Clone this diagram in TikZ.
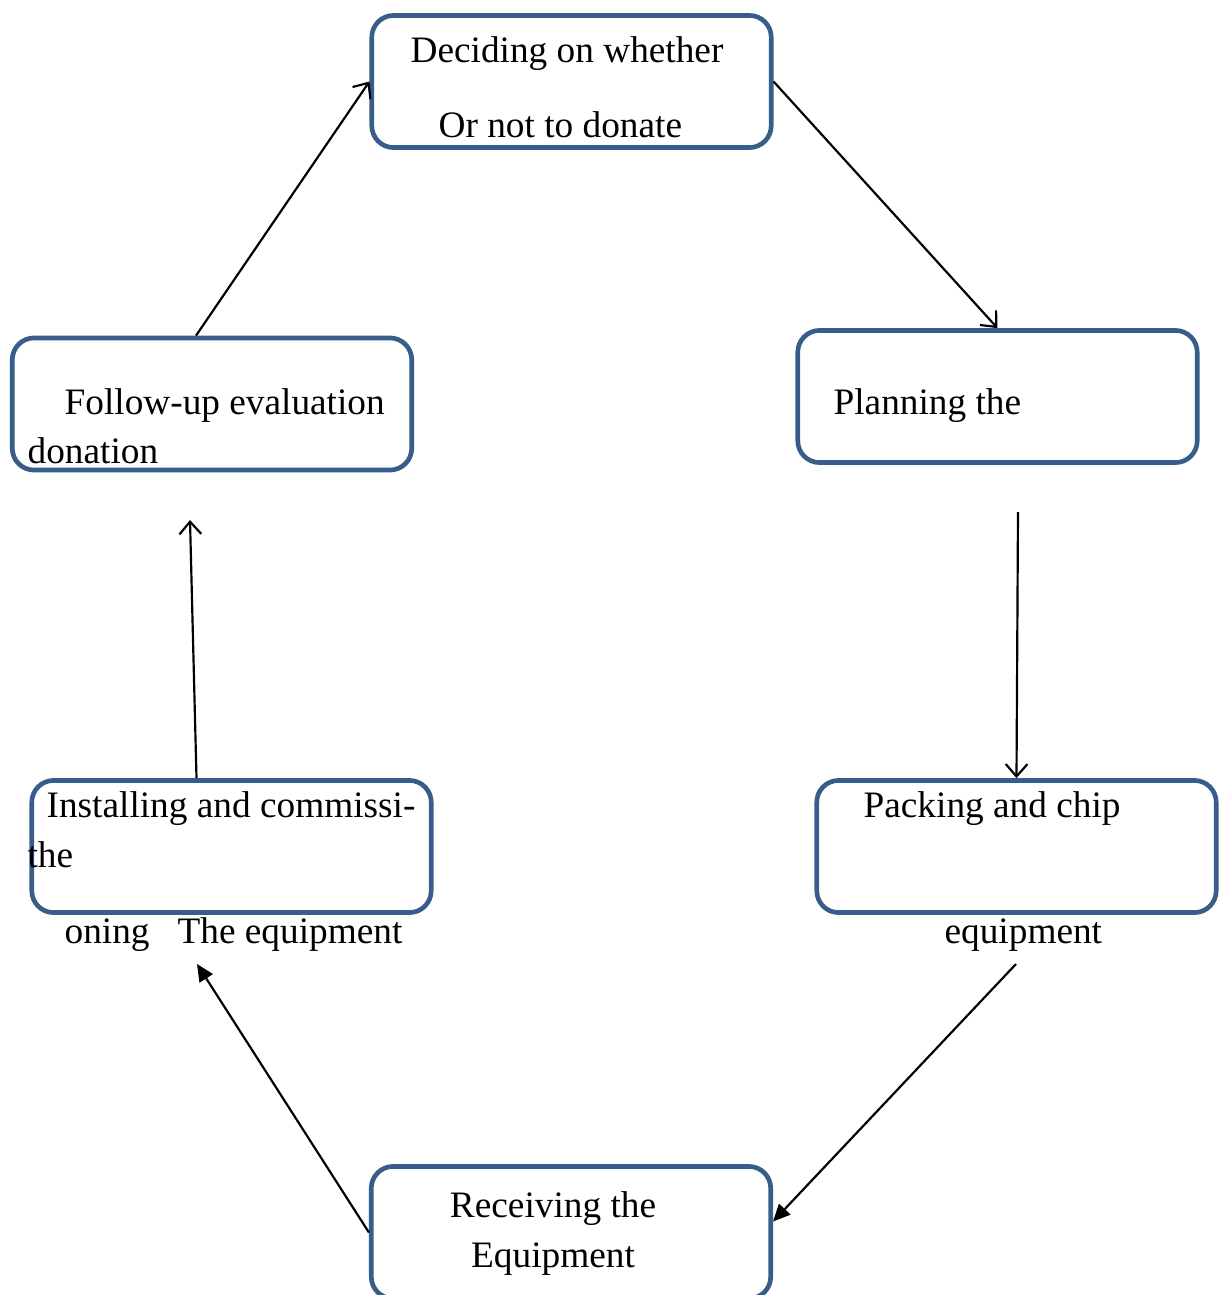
\documentclass[tikz,border=0pt]{standalone}
\usepackage{fontspec}
\setmainfont{Liberation Serif}
\usetikzlibrary{arrows.meta,calc}

\definecolor{boxblue}{HTML}{385D8A}

\begin{document}
\begin{tikzpicture}[x=0.0113cm,y=-0.0113cm,
    stage/.style={draw=boxblue,line width=1.5pt,rounded corners=7pt,minimum width=128.5pt,minimum height=42.5pt,inner sep=0pt},
    label text/.style={font=\fontsize{12pt}{14pt}\selectfont,inner sep=0pt},
    open arrow/.style={line width=0.7pt,-{Straight Barb[length=4pt,width=7pt]}},
    solid arrow/.style={line width=0.7pt,-{Triangle[length=5.5pt,width=5pt]}}]
  \useasboundingbox (0,0) rectangle (1219,1295);

  % the six stages
  \node[stage] (decide) at (571.5,81.5) {};
  \node[stage] (plan) at (997.5,396.5) {};
  \node[stage] (pack) at (1016.5,846.5) {};
  \node[stage] (receive) at (571,1232.5) {};
  \node[stage] (install) at (231.5,846.5) {};
  \node[stage] (follow) at (212,404) {};

  % texts as they sit in and round the boxes
  \node[label text,anchor=base west] (decide1) at (410,62) {Deciding on whether};
  \node[label text,anchor=base west] (decide2) at (438,137) {Or not to donate};
  \node[label text,anchor=base west] (plan1) at (833,414) {Planning the};
  \node[label text,anchor=base west] (pack1) at (863,817) {Packing and chip};
  \node[label text,anchor=base west] (pack2) at (944,943) {equipment};
  \node[label text,anchor=base] (receive1) at (553,1217) {Receiving the};
  \node[label text,anchor=base] (receive2) at (553,1267) {Equipment};
  \node[label text,anchor=base west] (install1) at (46,817) {Installing and commissi-};
  \node[label text,anchor=base west] (install2) at (27,867) {the};
  \node[label text,anchor=base west] (install3) at (64,943) {oning\hspace{9pt}The equipment};
  \node[label text,anchor=base west] (follow1) at (64,414) {Follow-up evaluation};
  \node[label text,anchor=base west] (follow2) at (27,463) {donation};

  \coordinate (planout) at (1018,512);
  \coordinate (packout) at (1016,964);
  \coordinate (installin) at (197,964);
  \coordinate (followin) at (190,520);

  \path
    (decide.east) edge[open arrow] (plan.north)
    (planout) edge[open arrow] (pack.north)
    (packout) edge[solid arrow] ($(receive.east)+(0,-11)$)
    (receive.west) edge[solid arrow] (installin)
    ($(install.north)+(-35,0)$) edge[open arrow] (followin)
    ($(follow.north)+(-16,0)$) edge[open arrow] (decide.west)
    ;
\end{tikzpicture}
\end{document}
